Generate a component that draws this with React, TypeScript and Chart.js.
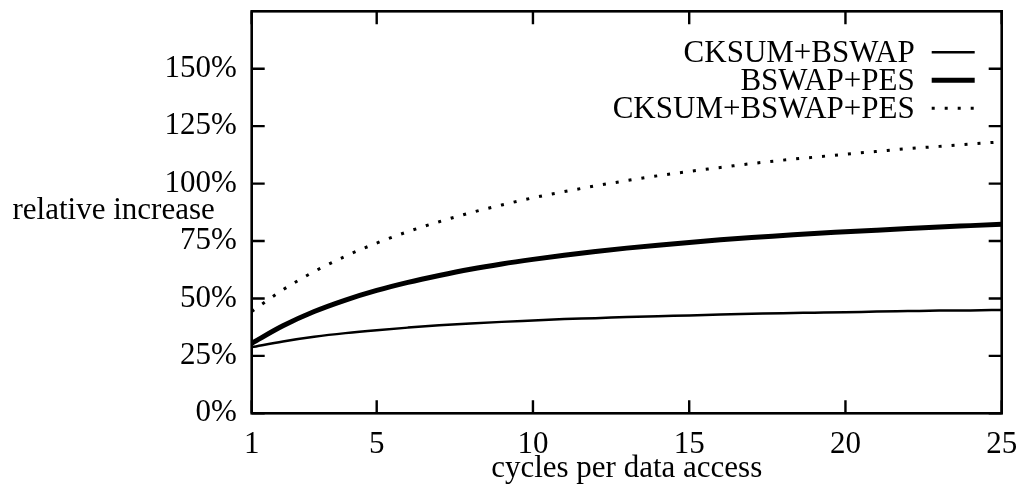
import React, { useEffect, useRef } from "react";
import { Chart, registerables } from "chart.js";

Chart.register(...registerables);

const cycles = [1, 2, 3, 4, 5, 6, 7, 8, 9, 10, 11, 12, 13, 14, 15, 16, 17, 18, 19, 20, 21, 22, 23, 24, 25];
const ckBswap = [28.8, 31.3, 33.3, 34.9, 36.2, 37.3, 38.3, 39.1, 39.8, 40.4, 41.0, 41.4, 41.9, 42.3, 42.6, 43.0, 43.3, 43.6, 43.8, 44.0, 44.3, 44.5, 44.7, 44.8, 45.0];
const bswapPes = [30.5, 38.1, 44.3, 49.3, 53.5, 57.0, 60.0, 62.7, 65.0, 67.0, 68.8, 70.4, 71.9, 73.2, 74.4, 75.5, 76.5, 77.4, 78.3, 79.0, 79.7, 80.4, 81.1, 81.7, 82.3];
const ckBswapPes = [44.3, 53.8, 61.7, 68.4, 74.1, 79.1, 83.4, 87.3, 90.7, 93.8, 96.5, 99.0, 101.3, 103.4, 105.3, 107.0, 108.7, 110.2, 111.5, 112.8, 114.0, 115.2, 116.2, 117.2, 118.2];
const seriesNames = ["CKSUM+BSWAP", "BSWAP+PES", "CKSUM+BSWAP+PES"];
const xTickValues = [1, 5, 10, 15, 20, 25];
const yTickValues = [0, 25, 50, 75, 100, 125, 150];
const xTitle = "cycles per data access";
const yTitle = "relative increase";

const W = 1016;
const H = 485;
const FONT_FAMILY = "'Liberation Serif', 'Times New Roman', serif";
const FONT_SIZE = 31;

const framePlugin = {
  id: "gnuFrame",
  afterDatasetsDraw(chart: any) {
    const { ctx, chartArea: a, scales } = chart;
    ctx.save();
    ctx.strokeStyle = "#000";
    ctx.lineWidth = 2.6;
    ctx.strokeRect(a.left, a.top, a.right - a.left, a.bottom - a.top);
    ctx.lineWidth = 2.4;
    const T = 13;
    ctx.beginPath();
    for (const v of yTickValues) {
      const y = scales.y.getPixelForValue(v);
      ctx.moveTo(a.left, y);
      ctx.lineTo(a.left + T, y);
      ctx.moveTo(a.right, y);
      ctx.lineTo(a.right - T, y);
    }
    for (const v of xTickValues) {
      const x = scales.x.getPixelForValue(v);
      ctx.moveTo(x, a.bottom);
      ctx.lineTo(x, a.bottom - T);
      ctx.moveTo(x, a.top);
      ctx.lineTo(x, a.top + T);
    }
    ctx.stroke();

    // legend (gnuplot style: right-aligned text, sample on the right)
    ctx.font = `${FONT_SIZE}px ${FONT_FAMILY}`;
    ctx.fillStyle = "#000";
    ctx.textAlign = "right";
    ctx.textBaseline = "alphabetic";
    const textRight = a.right - 87;
    const sx0 = a.right - 70;
    const sx1 = a.right - 27;
    chart.data.datasets.forEach((ds: any, i: number) => {
      const base = a.top + 51 + i * 28;
      ctx.fillText(ds.label, textRight, base);
      const ly = base - 10;
      ctx.save();
      ctx.lineWidth = ds.borderWidth;
      ctx.strokeStyle = ds.borderColor;
      ctx.setLineDash(ds.borderDash || []);
      ctx.lineCap = "butt";
      ctx.beginPath();
      ctx.moveTo(sx0, ly);
      ctx.lineTo(sx1, ly);
      ctx.stroke();
      ctx.restore();
    });
    ctx.restore();
  },
  afterDraw(chart: any) {
    const { ctx, chartArea: a } = chart;
    ctx.save();
    ctx.font = `${FONT_SIZE}px ${FONT_FAMILY}`;
    ctx.fillStyle = "#000";
    ctx.textBaseline = "alphabetic";
    ctx.textAlign = "center";
    ctx.fillText(xTitle, (a.left + a.right) / 2, 477);
    ctx.textAlign = "left";
    ctx.fillText(yTitle, 12.5, 219);
    ctx.restore();
  },
};

export default function App() {
  const ref = useRef<HTMLCanvasElement | null>(null);

  useEffect(() => {
    document.body.style.margin = "0";
    const canvas = ref.current;
    if (!canvas) return;
    const font = { family: FONT_FAMILY, size: FONT_SIZE };
    const mk = (arr: number[]) => cycles.map((c, i) => ({ x: c, y: arr[i] }));
    const chart = new Chart(canvas, {
      type: "line",
      data: {
        datasets: [
          {
            label: seriesNames[0],
            data: mk(ckBswap),
            borderColor: "#000",
            borderWidth: 2.5,
            pointRadius: 0,
            fill: false,
            cubicInterpolationMode: "monotone",
          },
          {
            label: seriesNames[1],
            data: mk(bswapPes),
            borderColor: "#000",
            borderWidth: 5,
            pointRadius: 0,
            fill: false,
            cubicInterpolationMode: "monotone",
          },
          {
            label: seriesNames[2],
            data: mk(ckBswapPes),
            borderColor: "#000",
            borderWidth: 3,
            borderDash: [3, 10],
            borderCapStyle: "butt",
            pointRadius: 0,
            fill: false,
            cubicInterpolationMode: "monotone",
          },
        ],
      },
      options: {
        animation: false,
        responsive: false,
        devicePixelRatio: 1,
        layout: { padding: { top: 11.3, right: 14.3, left: 0, bottom: 0 } },
        plugins: { legend: { display: false }, tooltip: { enabled: false } },
        scales: {
          x: {
            type: "linear",
            min: 1,
            max: 25,
            afterBuildTicks: (s: any) => {
              s.ticks = xTickValues.map((v) => ({ value: v }));
            },
            afterFit: (s: any) => {
              s.height = H - 413.3;
              s.paddingLeft = 0;
              s.paddingRight = 0;
            },
            grid: { display: false, drawTicks: false },
            border: { display: false },
            ticks: {
              font,
              color: "#000",
              padding: 13,
              maxRotation: 0,
              autoSkip: false,
              callback: (v: any) => `${v}`,
            },
          },
          y: {
            min: 0,
            max: 175,
            afterBuildTicks: (s: any) => {
              s.ticks = yTickValues.map((v) => ({ value: v }));
            },
            afterFit: (s: any) => {
              s.width = 251.7;
              s.paddingTop = 0;
              s.paddingBottom = 0;
            },
            grid: { display: false, drawTicks: false },
            border: { display: false },
            ticks: {
              font,
              color: "#000",
              padding: 15,
              autoSkip: false,
              callback: (v: any) => `${v}%`,
            },
          },
        },
      },
      plugins: [framePlugin],
    } as any);
    return () => chart.destroy();
  }, []);

  return (
    <div style={{ position: "absolute", left: 0, top: 0, width: W, height: H, background: "#fff" }}>
      <canvas ref={ref} width={W} height={H} style={{ width: W, height: H, display: "block" }} />
    </div>
  );
}
